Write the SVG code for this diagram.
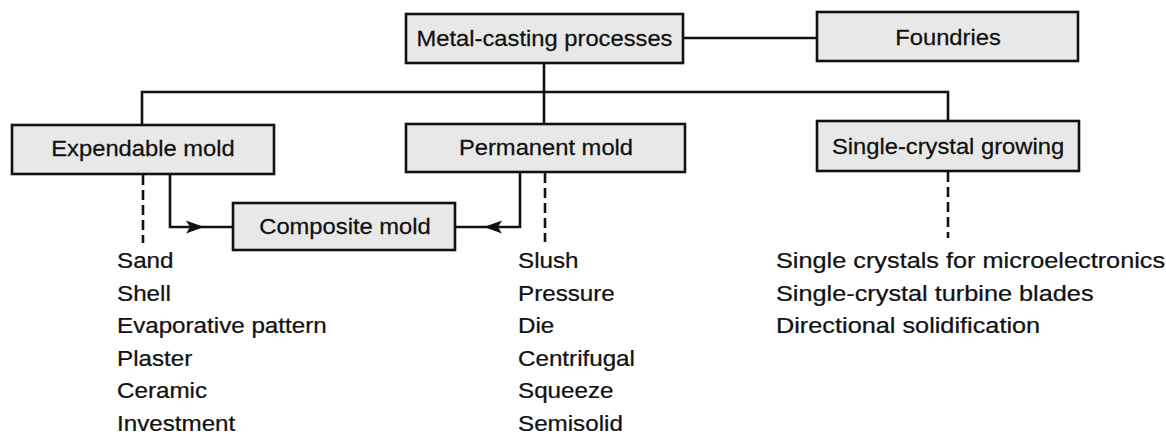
<svg xmlns="http://www.w3.org/2000/svg" width="1166" height="434" viewBox="0 0 1166 434">
<style>
.box{fill:#e8e8e8;stroke:#111;stroke-width:2.6}
.lbl{font-family:"Liberation Sans",Arial,Helvetica,sans-serif;font-size:22px;fill:#111;stroke:#111;stroke-width:0.25;text-anchor:middle}
.item{font-family:"Liberation Sans",Arial,Helvetica,sans-serif;font-size:22px;fill:#111;stroke:#111;stroke-width:0.25}
.ln{fill:none;stroke:#111;stroke-width:2.6}
.dash{fill:none;stroke:#111;stroke-width:2.6;stroke-dasharray:10 5}
.ah{fill:#111}
</style>
<rect width="1166" height="434" fill="#fff"/>
<g id="connectors">
<line class="ln" x1="683" y1="38" x2="817" y2="38"/>
<line class="ln" x1="544" y1="63" x2="544" y2="124"/>
<polyline class="ln" points="142,125 142,92 948,92 948,121"/>
<polyline class="ln" points="170,174 170,227 233,227"/>
<polygon class="ah" points="204,227 186,220.5 190,227 186,233.5"/>
<polyline class="ln" points="520,172 520,227 455,227"/>
<polygon class="ah" points="484,227 502,220.5 498,227 502,233.5"/>
<line class="dash" x1="143" y1="175" x2="143" y2="243"/>
<line class="dash" x1="545" y1="173" x2="545" y2="242"/>
<line class="dash" x1="948" y1="172" x2="948" y2="238"/>
</g>
<g id="metal-casting">
<rect class="box" x="406" y="14" width="277" height="49"/>
<text class="lbl" transform="translate(544.5,46) scale(1.08,1)">Metal-casting processes</text>
</g>
<g id="foundries">
<rect class="box" x="817" y="12" width="261" height="49"/>
<text class="lbl" transform="translate(948,45) scale(1.08,1)">Foundries</text>
</g>
<g id="expendable">
<rect class="box" x="12" y="125" width="262" height="49"/>
<text class="lbl" transform="translate(143,156) scale(1.08,1)">Expendable mold</text>
</g>
<g id="permanent">
<rect class="box" x="406" y="124" width="279" height="48"/>
<text class="lbl" transform="translate(546,155) scale(1.08,1)">Permanent mold</text>
</g>
<g id="single-crystal">
<rect class="box" x="817" y="121" width="262" height="50"/>
<text class="lbl" transform="translate(948,154) scale(1.08,1)">Single-crystal growing</text>
</g>
<g id="composite">
<rect class="box" x="233" y="203" width="222" height="47"/>
<text class="lbl" transform="translate(345,234) scale(1.08,1)">Composite mold</text>
</g>
<g id="expendable-list">
<text class="item" transform="translate(117,268) scale(1.1,1)">Sand</text>
<text class="item" transform="translate(117,300.5) scale(1.1,1)">Shell</text>
<text class="item" transform="translate(117,333) scale(1.1,1)">Evaporative pattern</text>
<text class="item" transform="translate(117,365.5) scale(1.1,1)">Plaster</text>
<text class="item" transform="translate(117,398) scale(1.1,1)">Ceramic</text>
<text class="item" transform="translate(117,430.5) scale(1.1,1)">Investment</text>
</g>
<g id="permanent-list">
<text class="item" transform="translate(518,268) scale(1.1,1)">Slush</text>
<text class="item" transform="translate(518,300.5) scale(1.1,1)">Pressure</text>
<text class="item" transform="translate(518,333) scale(1.1,1)">Die</text>
<text class="item" transform="translate(518,365.5) scale(1.1,1)">Centrifugal</text>
<text class="item" transform="translate(518,398) scale(1.1,1)">Squeeze</text>
<text class="item" transform="translate(518,430.5) scale(1.1,1)">Semisolid</text>
</g>
<g id="single-crystal-list">
<text class="item" transform="translate(776,268) scale(1.15,1)">Single crystals for microelectronics</text>
<text class="item" transform="translate(776,300.5) scale(1.15,1)">Single-crystal turbine blades</text>
<text class="item" transform="translate(776,333) scale(1.15,1)">Directional solidification</text>
</g>
</svg>
